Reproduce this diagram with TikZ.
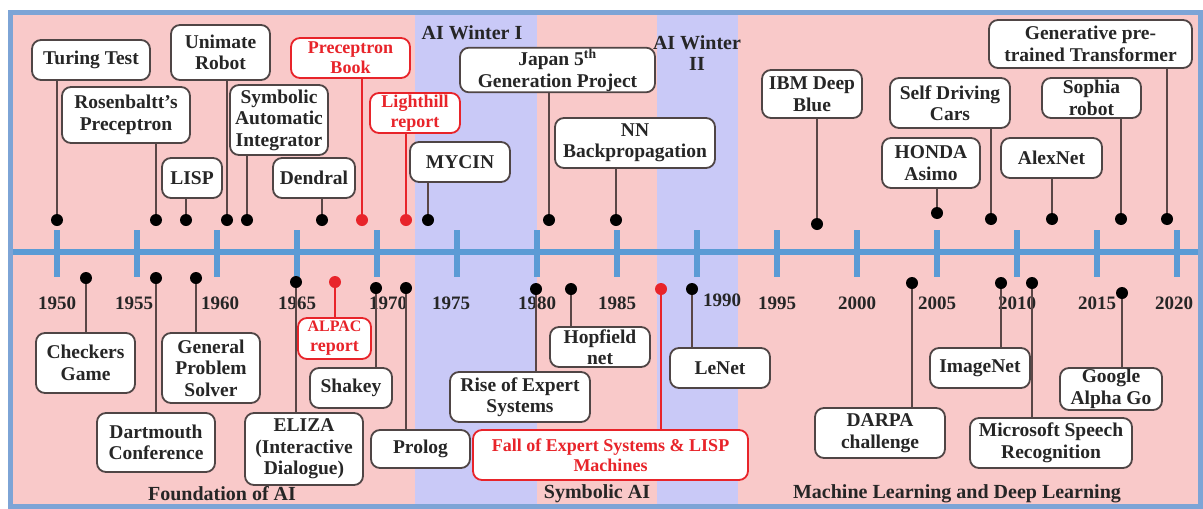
\documentclass[tikz,border=0pt]{standalone}
\usepackage{fontspec}
\setmainfont{Liberation Serif}

\definecolor{pinkbg}{HTML}{F9C9C9}
\definecolor{winterbg}{HTML}{C9C9F7}
\definecolor{framecol}{HTML}{7DA4D6}
\definecolor{axiscol}{HTML}{5B9BD5}
\definecolor{ink}{HTML}{262626}
\definecolor{stem}{HTML}{5A4646}
\definecolor{boxline}{HTML}{4F4545}
\definecolor{alert}{HTML}{E8242A}

\newcommand\boxfont{\fontsize{19.5}{21.5}\selectfont\bfseries}
\newcommand\redfont{\fontsize{18}{20}\selectfont\bfseries}
\newcommand\yearfont{\fontsize{19}{21}\selectfont\bfseries}
\newcommand\erafont{\fontsize{20}{21}\selectfont\bfseries}

\tikzset{
  evbox ink/.style={draw=boxline, text=ink, font=\boxfont, line width=1.8pt,
    rounded corners=9pt, fill=white, align=center, inner sep=1pt},
  evbox alert/.style={evbox ink, draw=alert, text=alert, font=\redfont},
  dot ink/.style={circle, fill=black, inner sep=0pt, minimum size=12pt},
  dot alert/.style={dot ink, fill=alert},
  conn ink/.style={draw=stem, line width=1.8pt},
  conn alert/.style={conn ink, draw=alert},
  axisline/.style={draw=axiscol, line width=6pt},
  yearlbl/.style={font=\yearfont, text=ink, inner sep=0pt},
  eralbl/.style={font=\erafont, text=ink, inner sep=0pt, align=center},
}

% event above the axis: name, colour, box centre, width, height, text, dot position
\newcommand\eventup[7]{%
  \node[evbox #2, minimum width=#4pt, minimum height=#5pt] (#1) at (#3) {#6};
  \node[dot #2] (#1-dot) at (#7) {};
  \draw[conn #2] (#1-dot) -- (#1-dot |- #1.south);
}
% event below the axis
\newcommand\eventdown[7]{%
  \node[evbox #2, minimum width=#4pt, minimum height=#5pt] (#1) at (#3) {#6};
  \node[dot #2] (#1-dot) at (#7) {};
  \draw[conn #2] (#1-dot) -- (#1-dot |- #1.north);
}

\begin{document}
\begin{tikzpicture}[x=1pt, y=-1pt]
  \useasboundingbox (0,0) rectangle (1203,509);
  \fill[white] (0,0) rectangle (1203,509);

  % eras and AI winters
  \fill[pinkbg] (10.5,12.5) rectangle (1200.5,506.5);
  \fill[winterbg] (415,12.5) rectangle (537,506.5);
  \fill[winterbg] (657,12.5) rectangle (738,506.5);
  \draw[framecol, line width=5pt] (10.5,12.5) rectangle (1200.5,506.5);

  % time axis with a tick every five years
  \draw[axisline] (13,252) -- (1198,252);
  \foreach \k in {0,...,14}
    \draw[axisline] ({57+80*\k},230) -- ({57+80*\k},277);

  \foreach \yr/\xx/\yy in {1950/57/303, 1955/134/303, 1960/220/303, 1965/297/303,
      1970/388/303, 1975/451/303, 1980/537/303, 1985/617/303, 1990/722/300,
      1995/777/303, 2000/857/303, 2005/937/303, 2010/1017/303, 2015/1097/303,
      2020/1174/303}
    \node[yearlbl] (y\yr) at (\xx,\yy) {\yr};

  % era headings
  \node[eralbl] (winter1) at (472,33) {AI Winter I};
  \node[eralbl] (winter2) at (697,53) {AI Winter\\II};
  \node[eralbl] (era1) at (222,494) {Foundation of AI};
  \node[eralbl] (era2) at (597,494) {Symbolic AI};
  \node[eralbl] (era3) at (957,494) {Machine Learning and Deep Learning};

  % events above the axis
  \eventup{turing}{ink}{91,60}{118}{40}{Turing Test}{57,220}
  \eventup{rosen}{ink}{126,115}{128}{56}{Rosenbaltt’s\\Preceptron}{156,220}
  \eventup{lisp}{ink}{192,178}{60}{40}{LISP}{186,220}
  \eventup{unimate}{ink}{220.5,52.5}{99}{55}{Unimate\\Robot}{227,220}
  \eventup{symbolic}{ink}{279,120}{98}{70}{Symbolic\\Automatic\\Integrator}{247,220}
  \eventup{dendral}{ink}{314,178}{82}{40}{Dendral}{322,220}
  \eventup{pbook}{alert}{350.5,58}{119}{40}{Preceptron\\Book}{362,220}
  \eventup{lighthill}{alert}{415,113}{90}{40}{Lighthill\\report}{406,220}
  \eventup{mycin}{ink}{460,162}{100}{40}{MYCIN}{428,220}
  \eventup{japan}{ink}{557.5,70}{195}{40}{Japan 5\textsuperscript{th}\\Generation Project}{549,220}
  \eventup{nnbp}{ink}{635,143}{160}{50}{NN\\Backpropagation}{616,220}
  \eventup{ibm}{ink}{812,94}{100}{48}{IBM Deep\\Blue}{817,224}
  \eventup{selfdrive}{ink}{950,103}{120}{50}{Self Driving\\Cars}{991,219}
  \eventup{honda}{ink}{931,163}{98}{50}{HONDA\\Asimo}{937,213}
  \eventup{alexnet}{ink}{1051.5,158}{101}{40}{AlexNet}{1052,219}
  \eventup{sophia}{ink}{1091.5,98}{99}{40}{Sophia\\robot}{1121,219}
  \eventup{gpt}{ink}{1090.5,44}{203}{48}{Generative pre-\\trained Transformer}{1167,219}

  % events below the axis
  \eventdown{checkers}{ink}{85.5,363}{99}{60}{Checkers\\Game}{86,278}
  \eventdown{dartmouth}{ink}{156,442.5}{118}{59}{Dartmouth\\Conference}{156,278}
  \eventdown{gps}{ink}{211,368}{98}{70}{General\\Problem\\Solver}{196,278}
  \eventdown{eliza}{ink}{304,449}{118}{72}{ELIZA\\(Interactive\\Dialogue)}{296,282}
  \eventdown{alpac}{alert}{334.5,338.5}{73}{41}{\fontsize{16}{18}\selectfont ALPAC\\report}{335,282}
  \eventdown{shakey}{ink}{351,388}{82}{40}{Shakey}{376,288}
  \eventdown{prolog}{ink}{420.5,449}{99}{38}{Prolog}{406,288}
  \eventdown{rise}{ink}{520,397}{140}{50}{Rise of Expert\\Systems}{536,289}
  \eventdown{hopfield}{ink}{600,347}{100}{40}{Hopfield\\net}{571,289}
  \eventdown{fall}{alert}{610.5,455}{275}{50}{Fall of Expert Systems \& LISP\\Machines}{661,289}
  \eventdown{lenet}{ink}{720,368}{100}{40}{LeNet}{692,289}
  \eventdown{darpa}{ink}{880,433}{130}{50}{DARPA\\challenge}{912,283}
  \eventdown{imagenet}{ink}{980,368}{100}{40}{ImageNet}{1001,283}
  \eventdown{msr}{ink}{1051,443}{162}{50}{Microsoft Speech\\Recognition}{1032,283}
  \eventdown{alphago}{ink}{1111,389}{102}{42}{Google\\Alpha Go}{1122,293}
\end{tikzpicture}
\end{document}
